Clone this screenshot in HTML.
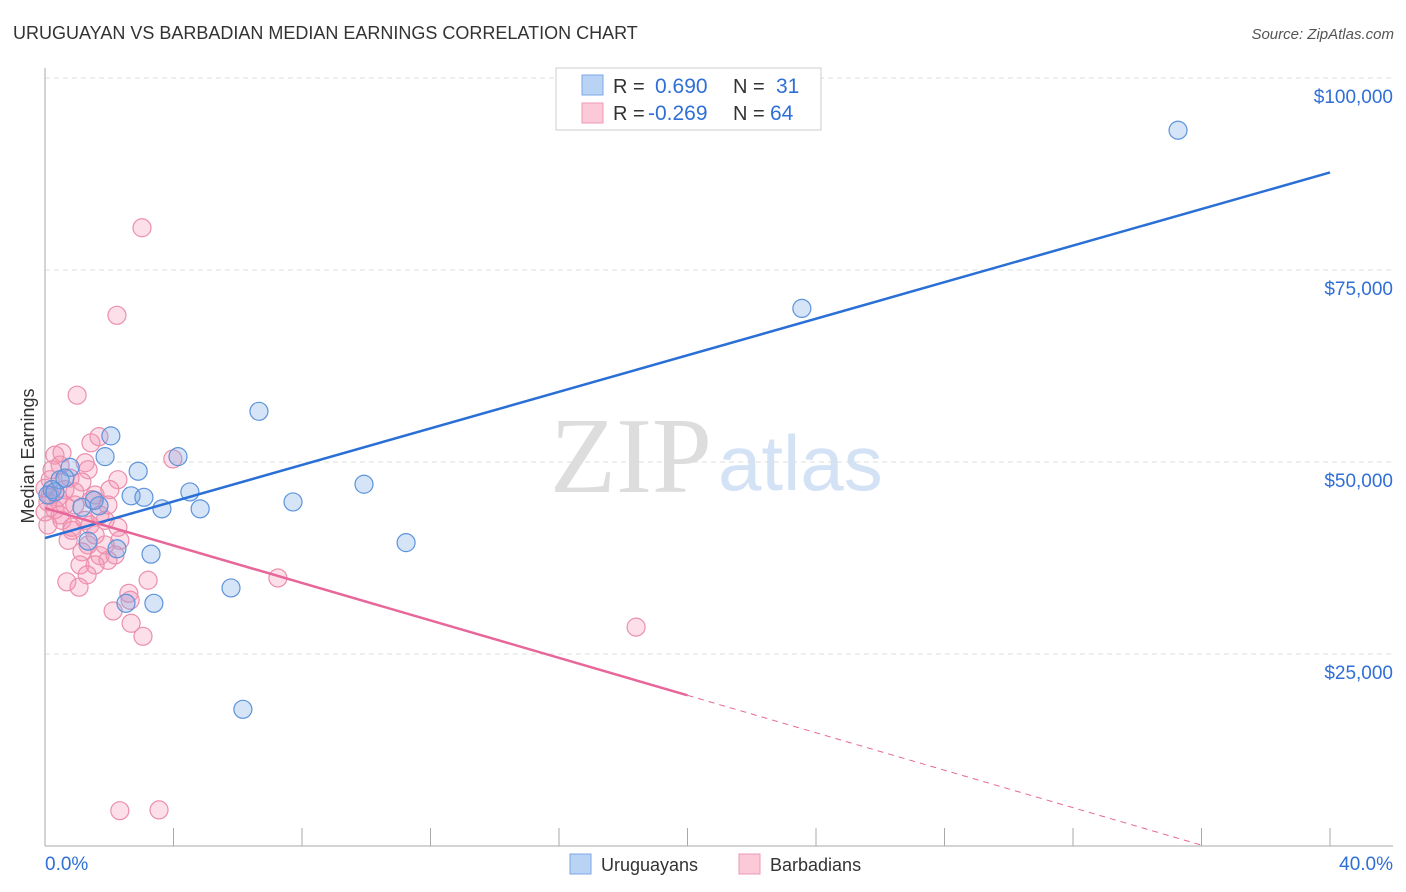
<!DOCTYPE html>
<html><head><meta charset="utf-8"><style>
body{margin:0;background:#fff;font-family:"Liberation Sans",sans-serif}
#wrap{position:relative;width:1406px;height:892px;overflow:hidden}
</style></head><body>
<div id="wrap">
<svg id="svg" width="1406" height="892" xmlns="http://www.w3.org/2000/svg">
<text x="13" y="39" font-size="18" fill="#333">URUGUAYAN VS BARBADIAN MEDIAN EARNINGS CORRELATION CHART</text>
<text x="1394" y="39" font-size="15" fill="#555" font-style="italic" text-anchor="end">Source: ZipAtlas.com</text>
<text x="712" y="492" font-size="108" fill="#ddd" font-family="Liberation Serif,serif" text-anchor="end">ZIP</text>
<text x="718" y="490" font-size="78" fill="#d3e3f5">atlas</text>
<text transform="translate(34,456) rotate(-90)" font-size="18" fill="#333" text-anchor="middle">Median Earnings</text>
<g id="grid"></g><g id="marks"></g>
<g>
<rect x="556" y="68" width="265" height="62" fill="#fff" stroke="#ccc"/>
<rect x="582" y="75" width="21" height="20" fill="#b9d3f5" stroke="#7aa7e6"/>
<rect x="582" y="103" width="21" height="20" fill="#fbc9d7" stroke="#ef9ab4"/>
<text x="613" y="93" font-size="20" fill="#333">R = <tspan x="655" fill="#2f6fd6" font-size="21">0.690</tspan><tspan x="733" fill="#333">N = </tspan><tspan x="776" fill="#2f6fd6" font-size="21">31</tspan></text>
<text x="613" y="120" font-size="20" fill="#333">R = <tspan x="648" fill="#2f6fd6" font-size="21">-0.269</tspan><tspan x="733" fill="#333">N = </tspan><tspan x="770" fill="#2f6fd6" font-size="21">64</tspan></text>
</g>
<g>
<rect x="570" y="854" width="21" height="20" fill="#b9d3f5" stroke="#7aa7e6"/>
<text x="601" y="871" font-size="18" fill="#333">Uruguayans</text>
<rect x="739" y="854" width="21" height="20" fill="#fbc9d7" stroke="#ef9ab4"/>
<text x="770" y="871" font-size="18" fill="#333">Barbadians</text>
</g>
</svg></div>
<script>
const xTicks=[0,4,8,12,16,20,24,28,32,36,40];
const yTicks=[25000,50000,75000,100000];
const yTickLabels=["$25,000","$50,000","$75,000","$100,000"];
const blueX=[35.27,23.56,6.66,2.05,4.14,1.87,2.90,9.93,4.51,2.68,3.08,7.72,3.64,4.83,1.68,1.15,1.53,0.78,0.47,0.22,0.09,0.31,11.24,2.24,3.30,1.34,5.79,2.52,3.39,6.16,0.62];
const blueY=[93.2,70.0,56.6,53.4,50.7,50.7,48.8,47.1,46.1,45.6,45.4,44.8,43.9,43.9,44.3,44.1,45.0,49.3,47.7,46.4,45.7,46.1,39.5,38.7,38.0,39.7,33.6,31.6,31.6,17.8,47.9];
const pinkX=[3.02,2.24,1.00,3.98,1.43,1.68,0.31,0.53,1.25,0.47,1.34,0.16,0.78,1.15,2.27,2.02,1.56,0.40,0.09,0.62,0.93,0.31,0.00,1.71,2.27,1.25,0.53,0.84,1.40,1.87,0.72,1.34,2.33,1.15,1.71,1.96,1.56,1.09,1.31,0.68,1.06,2.61,3.21,7.25,2.65,2.12,2.68,3.05,18.40,2.33,3.55,0.16,0.00,0.22,0.62,0.93,1.46,1.96,0.47,1.56,2.18,0.84,1.87,0.09];
const pinkY=[80.5,69.1,58.7,50.4,52.5,53.3,50.9,51.2,49.9,49.6,49.0,47.7,47.9,47.4,47.7,46.4,45.7,45.4,44.8,44.4,44.4,43.8,43.5,43.1,41.5,42.4,42.4,41.5,41.8,42.4,39.8,39.2,39.8,38.3,37.8,37.2,36.6,36.6,35.3,34.4,33.7,32.9,34.6,34.9,32.0,30.6,29.0,27.3,28.5,4.6,4.7,45.7,46.6,49.0,46.4,46.1,45.1,44.4,43.1,40.5,37.9,41.1,39.2,41.8];
const blueFit=[40.1,1.19]; // intercept $k, slope $k per %
const pinkFit=[44.0,-1.219];
const NS="http://www.w3.org/2000/svg";
const X=v=>45+v/40*1285;
const Y=v=>846-v/25*192; // v in $k
function mk(t,a,p){const e=document.createElementNS(NS,t);for(const k in a)e.setAttribute(k,a[k]);p.appendChild(e);return e;}
const grid=document.getElementById('grid'),marks=document.getElementById('marks');
yTicks.forEach((t,i)=>{const y=Y(t/1000);
const g=mk('line',{x1:45,x2:1393,y1:y,y2:y,stroke:'#ddd','stroke-dasharray':'5,4'},grid);


const l=mk('text',{x:1393,y:y+25,'font-size':19,fill:'#2f6fd6','text-anchor':'end'},grid);l.textContent=yTickLabels[i];

});
mk('line',{x1:45,x2:45,y1:68,y2:846,stroke:'#aaa'},grid);
mk('line',{x1:45,x2:1393,y1:846,y2:846,stroke:'#aaa'},grid);
xTicks.forEach(t=>{mk('line',{x1:X(t),x2:X(t),y1:828,y2:846,stroke:'#aaa'},grid);});
const x0=mk('text',{x:45,y:870,'font-size':19,fill:'#2f6fd6'},grid);x0.textContent=xTicks[0].toFixed(1)+'%';


const x1=mk('text',{x:1393,y:870,'font-size':19,fill:'#2f6fd6','text-anchor':'end'},grid);x1.textContent=xTicks[xTicks.length-1].toFixed(1)+'%';


function pts(xs,ys,fill,stroke,name){xs.forEach((v,i)=>{const c=mk('circle',{cx:X(v),cy:Y(ys[i]),r:9,fill:fill,stroke:stroke,'stroke-width':1.2},marks);

});}
pts(pinkX,pinkY,'rgba(244,150,180,0.3)','#eb8fad','barbadian-point');
pts(blueX,blueY,'rgba(120,165,230,0.3)','#5d93db','uruguayan-point');
const bl=mk('line',{x1:X(0),y1:Y(blueFit[0]),x2:X(40),y2:Y(blueFit[0]+blueFit[1]*40),stroke:'#2a6fd6','stroke-width':2.5},marks);


const pl=mk('line',{x1:X(0),y1:Y(pinkFit[0]),x2:X(20),y2:Y(pinkFit[0]+pinkFit[1]*20),stroke:'#e8679a','stroke-width':2.5},marks);


const xe=-pinkFit[0]/pinkFit[1];
const pd=mk('line',{x1:X(20),y1:Y(pinkFit[0]+pinkFit[1]*20),x2:X(xe),y2:Y(0),stroke:'#e8679a','stroke-width':1,'stroke-dasharray':'6,5'},marks);


</script>
</body></html>
